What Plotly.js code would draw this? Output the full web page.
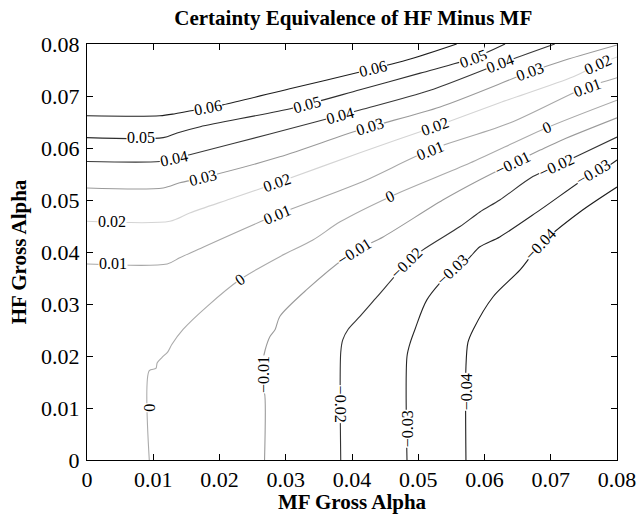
<!DOCTYPE html>
<html>
<head>
<meta charset="utf-8">
<script src="https://cdn.plot.ly/plotly-3.0.1.min.js"></script>
<style>html,body{margin:0;padding:0;background:#fff;}</style>
</head>
<body>
<div id="chart" style="width:640px;height:514px;"></div>
<script>
// Contour levels (certainty equivalence of HF minus MF)
const levels = [0.06, 0.05, 0.04, 0.03, 0.02, 0.01, 0, -0.01, -0.02, -0.03, -0.04];

// Each contour line: x = MF gross alpha, y = HF gross alpha
const cx_p06 = [0, 0.0110, 0.0133, 0.0163, 0.0205, 0.0306, 0.0412, 0.0488, 0.0558];
const cy_p06 = [0.0662, 0.0662, 0.0666, 0.0673, 0.0683, 0.0714, 0.0746, 0.0771, 0.0800];
const cx_p05 = [0, 0.0115, 0.0136, 0.0171, 0.0311, 0.0412, 0.0503, 0.0583, 0.0631];
const cy_p05 = [0.0620, 0.0620, 0.0629, 0.0641, 0.0677, 0.0712, 0.0744, 0.0773, 0.0800];
const cx_p04 = [0, 0.0110, 0.0133, 0.0155, 0.0276, 0.0412, 0.0518, 0.0623, 0.0706];
const cy_p04 = [0.0574, 0.0574, 0.0580, 0.0587, 0.0627, 0.0673, 0.0711, 0.0762, 0.0800];
const cx_p03 = [0, 0.0115, 0.0140, 0.0175, 0.0291, 0.0412, 0.0533, 0.0668, 0.0714, 0.0800];
const cy_p03 = [0.0523, 0.0523, 0.0533, 0.0543, 0.0583, 0.0635, 0.0679, 0.0746, 0.0766, 0.0798];
const cx_p02 = [0, 0.0125, 0.0155, 0.0216, 0.0287, 0.0412, 0.0525, 0.0623, 0.0734, 0.0771, 0.0800];
const cy_p02 = [0.0459, 0.0459, 0.0475, 0.0502, 0.0533, 0.0591, 0.0641, 0.0687, 0.0737, 0.0760, 0.0775];
const cx_p01 = [0, 0.0121, 0.0140, 0.0166, 0.0287, 0.0412, 0.0518, 0.0638, 0.0734, 0.0755, 0.0800];
const cy_p01 = [0.0377, 0.0377, 0.0389, 0.0404, 0.0472, 0.0533, 0.0596, 0.0648, 0.0706, 0.0717, 0.0735];
const cx_z00 = [0.0094, 0.0094, 0.0104, 0.0106, 0.0113, 0.0122, 0.0128, 0.0145, 0.0181, 0.0231, 0.0291, 0.0341, 0.0382, 0.0457, 0.0578, 0.0694, 0.0800];
const cy_z00 = [0, 0.0172, 0.0176, 0.0187, 0.0197, 0.0208, 0.0222, 0.0251, 0.0295, 0.0347, 0.0391, 0.0423, 0.0458, 0.0506, 0.0571, 0.0639, 0.0692];
const cx_m01 = [0.0268, 0.0268, 0.0266, 0.0266, 0.0269, 0.0276, 0.0284, 0.0291, 0.0332, 0.0392, 0.0417, 0.0447, 0.0537, 0.0593, 0.0643, 0.0684, 0.0718, 0.0800];
const cy_m01 = [0, 0.0128, 0.0132, 0.0193, 0.0212, 0.0237, 0.0251, 0.0276, 0.0328, 0.0391, 0.0410, 0.0429, 0.0500, 0.0539, 0.0571, 0.0596, 0.0616, 0.0658];
const cx_m02 = [0.0383, 0.0383, 0.0386, 0.0394, 0.0412, 0.0438, 0.0483, 0.0507, 0.0563, 0.0593, 0.0623, 0.0673, 0.0709, 0.0744, 0.0800];
const cy_m02 = [0, 0.0207, 0.0231, 0.0251, 0.0276, 0.0314, 0.0379, 0.0404, 0.0449, 0.0477, 0.0500, 0.0545, 0.0566, 0.0587, 0.0621];
const cx_m03 = [0.0483, 0.0483, 0.0488, 0.0495, 0.0513, 0.0552, 0.0574, 0.0593, 0.0623, 0.0684, 0.0764, 0.0785, 0.0800];
const cy_m03 = [0, 0.0199, 0.0226, 0.0251, 0.0308, 0.0366, 0.0385, 0.0410, 0.0429, 0.0481, 0.0552, 0.0564, 0.0577];
const cx_m04 = [0.0572, 0.0572, 0.0575, 0.0583, 0.0613, 0.0654, 0.0684, 0.0744, 0.0800];
const cy_m04 = [0, 0.0180, 0.0226, 0.0251, 0.0314, 0.0366, 0.0414, 0.0477, 0.0525];

const lineX = [cx_p06, cx_p05, cx_p04, cx_p03, cx_p02, cx_p01, cx_z00, cx_m01, cx_m02, cx_m03, cx_m04];
const lineY = [cy_p06, cy_p05, cy_p04, cy_p03, cy_p02, cy_p01, cy_z00, cy_m01, cy_m02, cy_m03, cy_m04];

// Contour labels: level, where on the line (by x or by y value)
const labelLevel = [0.06, 0.06, 0.05, 0.05, 0.05, 0.04, 0.04, 0.04, 0.03, 0.03, 0.03,
  0.02, 0.02, 0.02, 0.02, 0.01, 0.01, 0.01, 0.01, 0, 0, 0, 0,
  -0.01, -0.01, -0.01, -0.02, -0.02, -0.02, -0.03, -0.03, -0.03, -0.04, -0.04];
const labelAt = [0.0183, 0.0432, 0.0082, 0.0332, 0.0583, 0.0131, 0.0382, 0.0623, 0.0175, 0.0427, 0.0669,
  0.0038, 0.0287, 0.0525, 0.0771, 0.0039, 0.0287, 0.0518, 0.0755, 0.0101, 0.0231, 0.0457, 0.0694,
  0.0164, 0.0404, 0.0642, 0.0107, 0.0483, 0.0709, 0.0061, 0.0552, 0.0764, 0.0132, 0.0684];
const labelBy = ['x','x','x','x','x','x','x','x','x','x','x',
  'x','x','x','x','x','x','x','x','y','x','x','x',
  'y','x','x','y','x','x','y','x','x','y','x'];

// styles
const lineColors = ['#1e1e1e', '#2e2e2e', '#383838', '#9a9a9a', '#d4d4d4', '#a8a8a8', '#aaaaaa', '#9a9a9a', '#333333', '#262626', '#1e1e1e'];
const SERIF = 'Liberation Serif, Times New Roman, serif';

const W = 640, H = 514, M = {l: 87, r: 23, t: 44, b: 54};
const pxX = (W - M.l - M.r) / 0.08, pxY = (H - M.t - M.b) / 0.08;

function fmt(v) {
  if (v === 0) return '0';
  return (v < 0 ? '\u2212' : '') + Math.abs(v).toFixed(2);
}

function pointOn(xs, ys, at, by) {
  const a = by === 'x' ? xs : ys, b = by === 'x' ? ys : xs;
  for (let i = 0; i < a.length - 1; i++) {
    const lo = Math.min(a[i], a[i+1]), hi = Math.max(a[i], a[i+1]);
    if (at >= lo && at <= hi && a[i] !== a[i+1]) {
      const t = (at - a[i]) / (a[i+1] - a[i]);
      const other = b[i] + t * (b[i+1] - b[i]);
      return by === 'x' ? {x: at, y: other} : {x: other, y: at};
    }
  }
  return null;
}

const traces = levels.map((lv, k) => ({
  type: 'scatter', mode: 'lines', x: lineX[k], y: lineY[k],
  line: {color: lineColors[k], width: 1.1, shape: 'spline', smoothing: 0.8},
  hoverinfo: 'skip', showlegend: false, name: fmt(lv)
}));

const annotations = labelLevel.map((lv, i) => {
  const k = levels.indexOf(lv);
  const p = pointOn(lineX[k], lineY[k], labelAt[i], labelBy[i]);
  let ang;
  if (labelBy[i] === 'y') {
    ang = (lv === -0.02) ? 90 : -90;
  } else {
    const p1 = pointOn(lineX[k], lineY[k], Math.max(labelAt[i] - 0.0025, lineX[k][0] + 1e-6), 'x');
    const p2 = pointOn(lineX[k], lineY[k], Math.min(labelAt[i] + 0.0025, 0.0799), 'x');
    const ddx = (p2.x - p1.x) * pxX, ddy = (p2.y - p1.y) * pxY;
    ang = -Math.atan2(ddy, ddx) * 180 / Math.PI;
  }
  return {
    x: p.x, y: p.y, xref: 'x', yref: 'y', text: fmt(lv), showarrow: false,
    textangle: ang, bgcolor: '#ffffff', borderpad: 0,
    font: {family: SERIF, size: 16, color: '#000'}
  };
});

const axisCommon = {
  range: [0, 0.08], dtick: 0.01, tick0: 0, ticks: 'inside', ticklen: 6, tickwidth: 1,
  tickcolor: '#000', showline: true, linecolor: '#000', linewidth: 1, mirror: 'ticks',
  showgrid: false, zeroline: false,
  tickfont: {family: SERIF, size: 22, color: '#000'}
};

const layout = {
  width: W, height: H, margin: {l: M.l, r: M.r, t: M.t, b: M.b, pad: 0},
  paper_bgcolor: '#fff', plot_bgcolor: '#fff',
  title: {text: 'Certainty Equivalence of HF Minus MF', x: 0.552, xanchor: 'center', y: 0.965, yanchor: 'middle',
    font: {family: SERIF, size: 21, color: '#000', weight: 'bold'}},
  xaxis: Object.assign({}, axisCommon, {
    title: {text: 'MF Gross Alpha', standoff: 4, font: {family: SERIF, size: 21, color: '#000', weight: 'bold'}}
  }),
  yaxis: Object.assign({}, axisCommon, {
    ticklabelstandoff: 2,
    title: {text: 'HF Gross Alpha', standoff: 8, font: {family: SERIF, size: 21, color: '#000', weight: 'bold'}}
  }),
  annotations: annotations,
  showlegend: false
};

Plotly.newPlot('chart', traces, layout, {displayModeBar: false, staticPlot: true});
</script>
</body>
</html>
